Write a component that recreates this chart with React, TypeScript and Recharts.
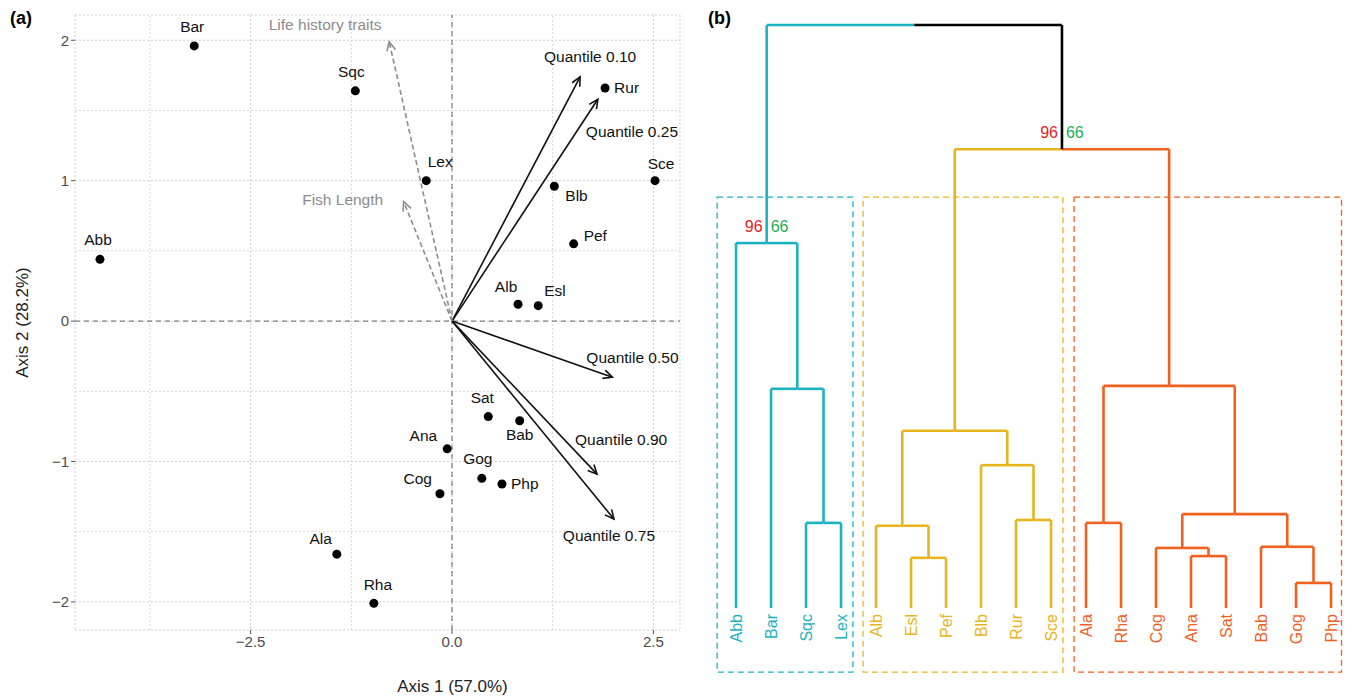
import React from 'react';
import {
  ScatterChart, Scatter, XAxis, YAxis, CartesianGrid, ReferenceLine,
  ComposedChart, ReferenceArea, ReferenceDot,
} from 'recharts';

// ---- panel (a) data
const species = ['Bar', 'Sqc', 'Lex', 'Abb', 'Rur', 'Sce', 'Blb', 'Pef', 'Alb', 'Esl', 'Sat', 'Bab', 'Ana', 'Gog', 'Php', 'Cog', 'Ala', 'Rha'];
const axis1 = [-3.2, -1.2, -0.32, -4.37, 1.9, 2.52, 1.27, 1.51, 0.82, 1.07, 0.45, 0.84, -0.06, 0.37, 0.62, -0.15, -1.43, -0.97];
const axis2 = [1.96, 1.64, 1.0, 0.44, 1.66, 1.0, 0.96, 0.55, 0.12, 0.11, -0.68, -0.71, -0.91, -1.12, -1.16, -1.23, -1.66, -2.01];

const vectorNames = ['Quantile 0.10', 'Quantile 0.25', 'Quantile 0.50', 'Quantile 0.90', 'Quantile 0.75', 'Life history traits', 'Fish Length'];
const vectorX = [1.59, 1.81, 1.99, 1.80, 2.01, -0.78, -0.6];
const vectorY = [1.74, 1.58, -0.40, -1.09, -1.41, 1.99, 0.85];
const vectorIsTrait = [false, false, false, false, false, true, true];

const xTicks = [-2.5, 0, 2.5];
const yTicks = [-2, -1, 0, 1, 2];

// label placement (dx, dy in px from the point)
const pointLabelOffset: Record<string, [number, number, string]> = {
  Bar: [-2, -14, 'middle'], Sqc: [-4, -14, 'middle'], Lex: [14, -14, 'middle'], Abb: [-2, -14, 'middle'],
  Rur: [9, 5, 'start'], Sce: [6, -12, 'middle'], Blb: [11, 15, 'start'], Pef: [10, -3, 'start'],
  Alb: [-12, -12, 'middle'], Esl: [6, -10, 'start'], Sat: [-6, -14, 'middle'], Bab: [0, 19, 'middle'],
  Ana: [-10, -8, 'end'], Gog: [-4, -14, 'middle'], Php: [9, 5, 'start'], Cog: [-8, -10, 'end'],
  Ala: [-5, -10, 'end'], Rha: [4, -13, 'middle'],
};
const vectorLabelOffset: Record<string, [number, number, string]> = {
  'Quantile 0.10': [10, -15, 'middle'], 'Quantile 0.25': [-12, 38, 'start'], 'Quantile 0.50': [-26, -14, 'start'],
  'Quantile 0.90': [-22, -29, 'start'], 'Quantile 0.75': [-5, 22, 'middle'],
  'Life history traits': [-64, -12, 'middle'], 'Fish Length': [-61, 3, 'middle'],
};

// ---- panel (b) data
const leaves = ['Abb', 'Bar', 'Sqc', 'Lex', 'Alb', 'Esl', 'Pef', 'Blb', 'Rur', 'Sce', 'Ala', 'Rha', 'Cog', 'Ana', 'Sat', 'Bab', 'Gog', 'Php'];
const leafCluster = [0, 0, 0, 0, 1, 1, 1, 1, 1, 1, 2, 2, 2, 2, 2, 2, 2, 2];
// merges: [child A, child B, height]; children are leaf names or 'm<index>'
const merges: [string, string, number][] = [
  ['Sqc', 'Lex', 14.6], ['Bar', 'm0', 37.6], ['Abb', 'm1', 62.6],
  ['Esl', 'Pef', 8.6], ['Alb', 'm3', 14.1], ['Rur', 'Sce', 15.1], ['Blb', 'm5', 24.5], ['m4', 'm6', 30.4],
  ['Ala', 'Rha', 14.6], ['Ana', 'Sat', 8.9], ['Cog', 'm9', 10.3], ['Gog', 'Php', 4.3], ['Bab', 'm11', 10.5],
  ['m10', 'm12', 16.1], ['m8', 'm13', 38.1], ['m7', 'm14', 78.7], ['m2', 'm15', 100],
];
const clusterColors = ['#1bb3c2', '#e6b520', '#f2601f'];
const boxes: [number, number, number][] = [[-0.54, 3.34, 0], [3.63, 9.34, 1], [9.66, 17.3, 2]];

const FONT = '"Liberation Sans", Arial, sans-serif';

const Arrow = (props: any) => {
  const { x1, y1, x2, y2, color, dashed, name } = props;
  const ang = Math.atan2(y2 - y1, x2 - x1);
  const L = 10;
  const a1 = ang + Math.PI - 0.45, a2 = ang + Math.PI + 0.45;
  const off = vectorLabelOffset[name];
  return (
    <g>
      <line x1={x1} y1={y1} x2={x2} y2={y2} stroke={color} strokeWidth={1.6} strokeDasharray={dashed ? '5 3' : undefined} />
      <polyline points={`${x2 + L * Math.cos(a1)},${y2 + L * Math.sin(a1)} ${x2},${y2} ${x2 + L * Math.cos(a2)},${y2 + L * Math.sin(a2)}`}
        fill="none" stroke={color} strokeWidth={1.6} />
      <text x={x2 + off[0]} y={y2 + off[1]} textAnchor={off[2] as any} fontSize={15.5} fill={dashed ? '#8c8c8c' : '#111'} fontFamily={FONT}>{name}</text>
    </g>
  );
};

function PanelA() {
  const points = species.map((s, i) => ({ name: s, x: axis1[i], y: axis2[i] }));
  const minorX = [-3.75, -1.25, 1.25];
  const minorY = [-1.5, -0.5, 0.5, 1.5];
  return (
    <ScatterChart width={700} height={696} margin={{ top: 15, right: 20, bottom: 26, left: 20 }}>
      <CartesianGrid stroke="#cfcfcf" strokeDasharray="2 2" />
      {minorX.map(v => <ReferenceLine key={'mx' + v} x={v} stroke="#d6d6d6" strokeDasharray="2 2" />)}
      {minorY.map(v => <ReferenceLine key={'my' + v} y={v} stroke="#d6d6d6" strokeDasharray="2 2" />)}
      <XAxis type="number" dataKey="x" domain={[-4.68, 2.83]} ticks={xTicks} height={40} allowDataOverflow
        tickFormatter={(v: number) => (v < 0 ? '\u2212' : '') + Math.abs(v).toFixed(1)}
        axisLine={false} tickLine={{ stroke: '#555' }} tickSize={4}
        tick={{ fill: '#4d4d4d', fontSize: 15, fontFamily: FONT }}
        label={{ value: 'Axis 1 (57.0%)', position: 'insideBottom', offset: -22, dx: 75, fill: '#222', fontSize: 17, fontFamily: FONT }} />
      <YAxis type="number" dataKey="y" domain={[-2.2, 2.18]} ticks={yTicks} width={55} allowDataOverflow
        tickFormatter={(v: number) => (v < 0 ? '\u2212' : '') + Math.abs(v)}
        axisLine={false} tickLine={{ stroke: '#555' }} tickSize={4}
        tick={{ fill: '#4d4d4d', fontSize: 15, fontFamily: FONT }}
        label={{ value: 'Axis 2 (28.2%)', angle: -90, position: 'insideLeft', offset: 2, fill: '#222', fontSize: 17, fontFamily: FONT, style: { textAnchor: 'middle' } }} />
      <ReferenceLine x={0} stroke="#666" strokeDasharray="5 4" />
      <ReferenceLine y={0} stroke="#666" strokeDasharray="5 4" />
      {vectorNames.map((n, i) => (
        <ReferenceLine key={n} segment={[{ x: 0, y: 0 }, { x: vectorX[i], y: vectorY[i] }]} ifOverflow="visible"
          shape={(p: any) => <Arrow {...p} name={n} color={vectorIsTrait[i] ? '#8c8c8c' : '#111'} dashed={vectorIsTrait[i]} />} />
      ))}
      <Scatter data={points} fill="#000" isAnimationActive={false}
        shape={(p: any) => (
          <g>
            <circle cx={p.cx} cy={p.cy} r={4.5} fill="#000" />
            <text x={p.cx + pointLabelOffset[p.payload.name][0]} y={p.cy + pointLabelOffset[p.payload.name][1]}
              textAnchor={pointLabelOffset[p.payload.name][2] as any} fontSize={15.5} fill="#111" fontFamily={FONT}>{p.payload.name}</text>
          </g>
        )} />
    </ScatterChart>
  );
}

function PanelB() {
  // resolve node positions
  const pos: Record<string, { x: number; h: number; c: number }> = {};
  leaves.forEach((l, i) => { pos[l] = { x: i, h: 0, c: leafCluster[i] }; });
  const segs: { x1: number; y1: number; x2: number; y2: number; color: string }[] = [];
  const col = (c: number) => (c < 0 ? '#000' : clusterColors[c]);
  merges.forEach(([a, b, h], i) => {
    const A = pos[a], B = pos[b];
    const mid = (A.x + B.x) / 2;
    segs.push({ x1: A.x, y1: A.h, x2: A.x, y2: h, color: col(A.c) });
    segs.push({ x1: B.x, y1: B.h, x2: B.x, y2: h, color: col(B.c) });
    segs.push({ x1: A.x, y1: h, x2: mid, y2: h, color: col(A.c) });
    segs.push({ x1: mid, y1: h, x2: B.x, y2: h, color: col(B.c) });
    pos['m' + i] = { x: mid, h, c: A.c === B.c ? A.c : -1 };
  });
  const leafData = leaves.map((l, i) => ({ name: l, x: i, y: 0, c: leafCluster[i] }));
  const supportNodes = ['m2', 'm15'];
  return (
    <ComposedChart width={652} height={696} margin={{ top: 0, right: 0, bottom: 0, left: 0 }}>
      <XAxis type="number" dataKey="x" domain={[-1.03, 17.6]} hide allowDataOverflow />
      <YAxis type="number" dataKey="y" domain={[-15.1, 104.3]} hide allowDataOverflow />
      {boxes.map(([x1, x2, c]) => (
        <ReferenceArea key={'b' + c} x1={x1} x2={x2} y1={-11} y2={70.5} fill="none" stroke={clusterColors[c]}
          strokeDasharray="6 4" strokeWidth={1.3} ifOverflow="visible" />
      ))}
      {segs.map((s, i) => (
        <ReferenceLine key={'s' + i} segment={[{ x: s.x1, y: s.y1 }, { x: s.x2, y: s.y2 }]} stroke={s.color}
          strokeWidth={2.6} ifOverflow="visible" />
      ))}
      {supportNodes.map(n => (
        <ReferenceDot key={n} x={pos[n].x} y={pos[n].h} r={0} ifOverflow="visible"
          shape={(p: any) => (
            <g fontFamily={FONT} fontSize={16}>
              <text x={p.cx - 4} y={p.cy - 11} textAnchor="end" fill="#e8201e">96</text>
              <text x={p.cx + 4} y={p.cy - 11} textAnchor="start" fill="#1fae55">66</text>
            </g>
          )} />
      ))}
      <Scatter data={leafData} isAnimationActive={false}
        shape={(p: any) => (
          <text transform={`translate(${p.cx + 6},${p.cy + 6}) rotate(-90)`} textAnchor="end" fontSize={16}
            fill={clusterColors[p.payload.c]} fontFamily={FONT}>{p.payload.name}</text>
        )} />
    </ComposedChart>
  );
}

export default function App() {
  return (
    <div style={{ position: 'relative', width: 1352, height: 696, margin: '-8px 0 0 -8px', background: '#fff', fontFamily: FONT }}>
      <div style={{ position: 'absolute', left: 0, top: 0 }}><PanelA /></div>
      <div style={{ position: 'absolute', left: 700, top: 0 }}><PanelB /></div>
      <div style={{ position: 'absolute', left: 10, top: 8, fontWeight: 'bold', fontSize: 18 }}>(a)</div>
      <div style={{ position: 'absolute', left: 708, top: 8, fontWeight: 'bold', fontSize: 18 }}>(b)</div>
    </div>
  );
}
